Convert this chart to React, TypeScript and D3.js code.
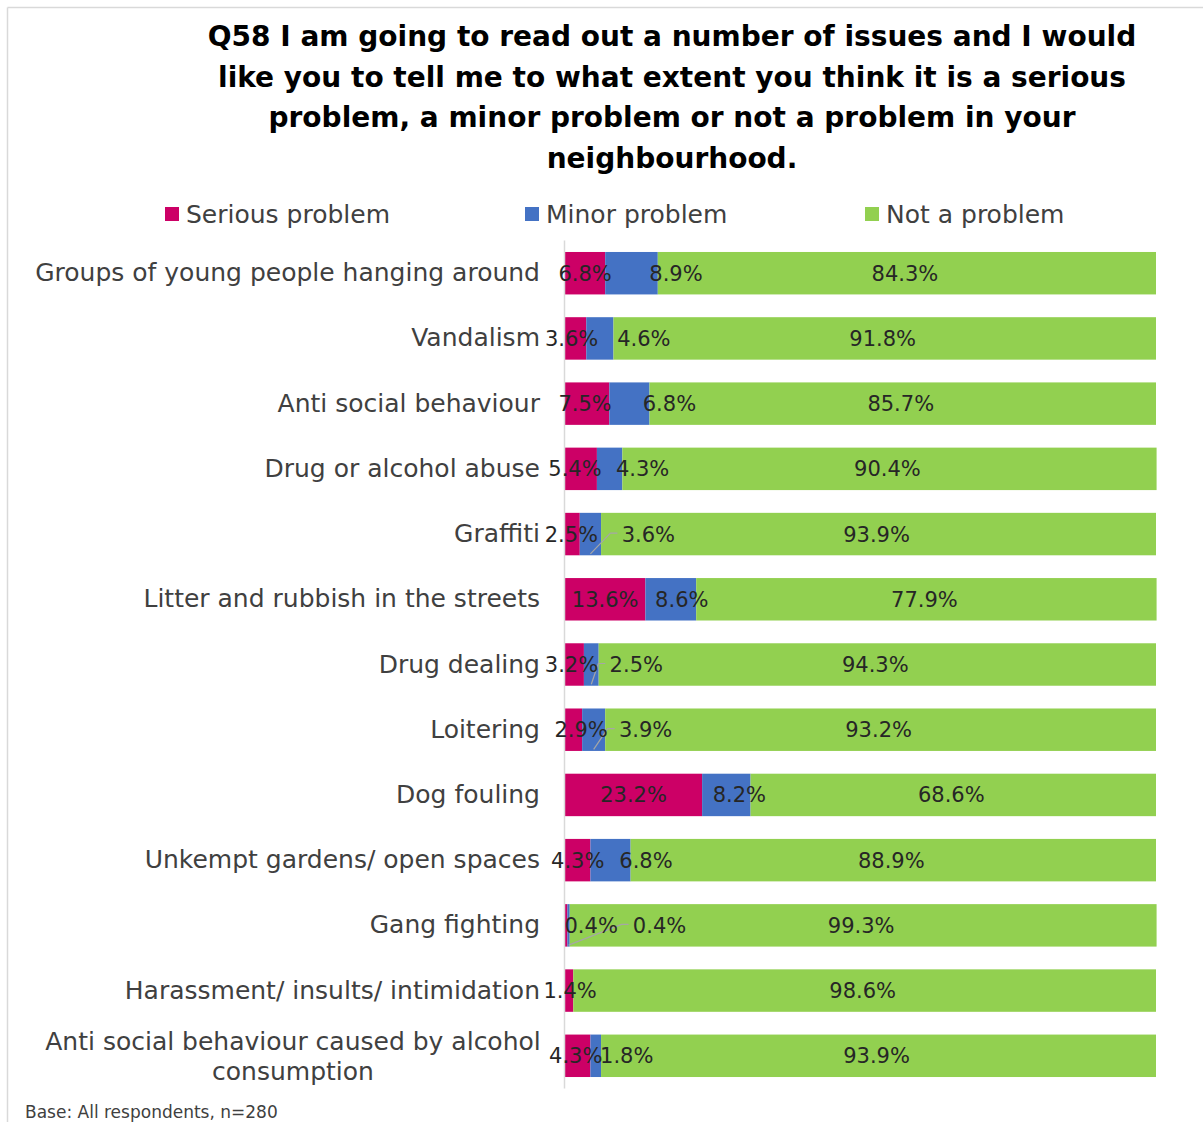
import React from "react";
import * as d3 from "d3";

const categories = [
  "Groups of young people hanging around",
  "Vandalism",
  "Anti social behaviour",
  "Drug or alcohol abuse",
  "Graffiti",
  "Litter and rubbish in the streets",
  "Drug dealing",
  "Loitering",
  "Dog fouling",
  "Unkempt gardens/ open spaces",
  "Gang fighting",
  "Harassment/ insults/ intimidation",
  "Anti social behaviour caused by alcohol consumption",
];
const serious = [6.8, 3.6, 7.5, 5.4, 2.5, 13.6, 3.2, 2.9, 23.2, 4.3, 0.4, 1.4, 4.3];
const minor = [8.9, 4.6, 6.8, 4.3, 3.6, 8.6, 2.5, 3.9, 8.2, 6.8, 0.4, 0, 1.8];
const notProblem = [84.3, 91.8, 85.7, 90.4, 93.9, 77.9, 94.3, 93.2, 68.6, 88.9, 99.3, 98.6, 93.9];
const seriesNames = ["Serious problem", "Minor problem", "Not a problem"];
const titleLines = [
  "Q58 I am going to read out a number of issues and I would",
  "like you to tell me to what extent you think it is a serious",
  "problem, a minor problem or not a problem in your",
  "neighbourhood.",
];
const baseNote = "Base: All respondents, n=280";

// label layout tweaks (pixel nudges of data labels, as placed in the original)
const seriousNudge = [0, -4, -2, -6, -1, 0, -3, 7.5, 0, 0, 25, 1, -2];
const minorNudge = [44.5, 44, 40, 33, 58, 11, 45, 52, 13, 35.5, 91, 0, 31];
const leaderRows = [4, 6, 7, 10];

const COLORS = ["#CC0066", "#4472C4", "#92D050"];
const FONT = "'DejaVu Sans', sans-serif";

export default function App() {
  const W = 1203;
  const H = 1122;
  const x = d3.scaleLinear().domain([0, 100]).range([565, 1156]);
  const y = d3
    .scaleBand<string>()
    .domain(categories)
    .range([240.6, 1088.4])
    .paddingInner(0.349)
    .paddingOuter(0.1745);

  const rows = categories.map((c, i) => ({
    cat: c,
    vals: [serious[i], minor[i], notProblem[i]],
  }));

  const fmt = (v: number) => v.toFixed(1) + "%";

  return (
    <svg
      width={W}
      height={H}
      style={{ position: "absolute", left: 0, top: 0, background: "#fff" }}
      fontFamily={FONT}
    >
      <rect x={0} y={0} width={W} height={H} fill="#fff" />
      {/* frame */}
      <line x1={7.5} y1={7.5} x2={W} y2={7.5} stroke="#d9d9d9" strokeWidth={1.5} />
      <line x1={7.5} y1={7.5} x2={7.5} y2={H} stroke="#d9d9d9" strokeWidth={1.5} />

      {/* title */}
      {titleLines.map((t, i) => (
        <text
          key={i}
          x={672}
          y={46 + i * 40.5}
          textAnchor="middle"
          fontSize={28}
          fontWeight="bold"
          fill="#000"
        >
          {t}
        </text>
      ))}

      {/* legend */}
      {seriesNames.map((s, i) => {
        const lx = [165, 525, 865][i];
        return (
          <g key={s}>
            <rect x={lx} y={207} width={14} height={14} fill={COLORS[i]} />
            <text x={lx + 21} y={223} fontSize={25} fill="#404040">
              {s}
            </text>
          </g>
        );
      })}

      {/* bars */}
      {rows.map((r, i) => {
        const by = y(r.cat)!;
        const bh = y.bandwidth();
        let cum = 0;
        return (
          <g key={r.cat}>
            {r.vals.map((v, k) => {
              const x0 = x(cum);
              cum += v;
              const x1 = x(cum);
              return (
                <rect
                  key={k}
                  x={x0}
                  y={by}
                  width={Math.max(0, x1 - x0)}
                  height={bh}
                  fill={COLORS[k]}
                />
              );
            })}
          </g>
        );
      })}

      {/* axis line */}
      <line
        x1={564.5}
        x2={564.5}
        y1={y.range()[0]}
        y2={y.range()[1]}
        stroke="#d9d9d9"
        strokeWidth={1.5}
      />

      {/* leader lines */}
      {leaderRows.map((i) => {
        const by = y(categories[i])!;
        const bh = y.bandwidth();
        const segC = x(serious[i] + minor[i] / 2);
        const lblC = segC + minorNudge[i];
        const lblLeft = lblC - 26;
        const cy = by + bh / 2 - 1;
        const path = d3.path();
        path.moveTo(segC, by + bh - 1.5);
        path.lineTo(lblLeft - 12, cy);
        path.lineTo(lblLeft - 5, cy);
        return (
          <path key={i} d={path.toString()} fill="none" stroke="#a6a6a6" strokeWidth={1.2} />
        );
      })}

      {/* data labels */}
      {rows.map((r, i) => {
        const by = y(r.cat)!;
        const cy = by + y.bandwidth() / 2;
        const out: JSX.Element[] = [];
        let cum = 0;
        r.vals.forEach((v, k) => {
          const c = x(cum + v / 2);
          cum += v;
          if (v <= 0) return;
          const nudge = k === 0 ? seriousNudge[i] : k === 1 ? minorNudge[i] : -2;
          out.push(
            <text
              key={k}
              x={c + nudge}
              y={cy}
              dy="0.36em"
              textAnchor="middle"
              fontSize={21}
              fill="#262626"
            >
              {fmt(v)}
            </text>
          );
        });
        return <g key={r.cat}>{out}</g>;
      })}

      {/* category labels */}
      {rows.map((r, i) => {
        const cy = y(r.cat)! + y.bandwidth() / 2;
        if (i === categories.length - 1) {
          const lines = ["Anti social behaviour caused by alcohol", "consumption"];
          return (
            <g key={r.cat}>
              {lines.map((l, j) => (
                <text
                  key={j}
                  x={293}
                  y={cy - 15 + j * 30}
                  dy="0.36em"
                  textAnchor="middle"
                  fontSize={25}
                  fill="#404040"
                >
                  {l}
                </text>
              ))}
            </g>
          );
        }
        return (
          <text
            key={r.cat}
            x={540}
            y={cy - 1}
            dy="0.36em"
            textAnchor="end"
            fontSize={25}
            fill="#404040"
          >
            {r.cat}
          </text>
        );
      })}

      {/* base note */}
      <text x={25} y={1118} fontSize={17} fill="#404040">
        {baseNote}
      </text>
    </svg>
  );
}
